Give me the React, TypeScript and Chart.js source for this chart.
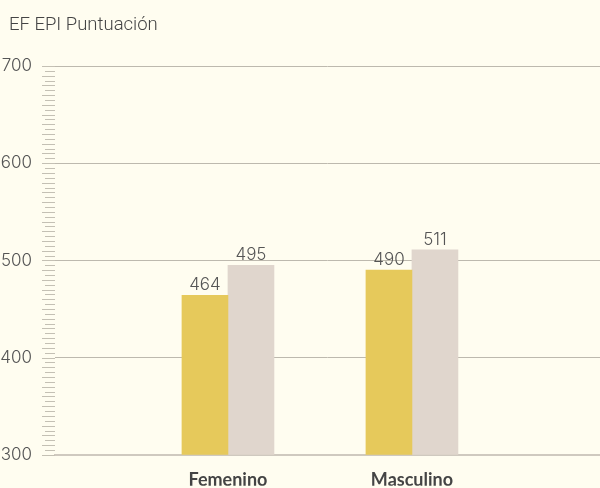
import React, { useEffect, useRef } from "react";
import { Chart, registerables } from "chart.js";

Chart.register(...registerables);

const categories = ["Femenino", "Masculino"];
const seriesGold = [464, 490];
const seriesBeige = [495, 511];
const yTicks = [300, 400, 500, 600, 700];
const titleText = "EF EPI Puntuación";

const BG = "#FFFDF0";

export default function App() {
  const ref = useRef<HTMLCanvasElement | null>(null);

  useEffect(() => {
    document.body.style.margin = "0";
    document.body.style.background = BG;
    const canvas = ref.current;
    if (!canvas) return;

    const bgPlugin = {
      id: "bg",
      beforeDraw(chart: any) {
        const { ctx, width, height } = chart;
        ctx.save();
        ctx.fillStyle = BG;
        ctx.fillRect(0, 0, width, height);
        ctx.restore();
      },
    };

    const titlePlugin = {
      id: "titleText",
      afterDraw(chart: any) {
        const ctx = chart.ctx;
        ctx.save();
        ctx.font = "300 18.5px Roboto";
        ctx.fillStyle = "#444";
        ctx.textAlign = "left";
        ctx.textBaseline = "alphabetic";
        ctx.fillText(titleText, 9, 30);
        ctx.restore();
      },
    };

    const minorTicks = {
      id: "minorTicks",
      afterDraw(chart: any) {
        const y = chart.scales.y;
        const ctx = chart.ctx;
        const left = chart.chartArea.left;
        ctx.save();
        ctx.strokeStyle = "#c4c0b4";
        ctx.lineWidth = 1;
        for (let v = yTicks[0]; v <= yTicks[yTicks.length - 1]; v += 5) {
          const py = Math.round(y.getPixelForValue(v)) + 0.5;
          const long = v % 10 === 0;
          ctx.beginPath();
          ctx.moveTo(left - (long ? 13 : 10), py);
          ctx.lineTo(left, py);
          ctx.stroke();
        }
        ctx.restore();
      },
    };

    const valueLabels = {
      id: "valueLabels",
      afterDatasetsDraw(chart: any) {
        const ctx = chart.ctx;
        ctx.save();
        ctx.font = "300 17px Inter";
        ctx.fillStyle = "#555";
        ctx.textAlign = "center";
        ctx.textBaseline = "alphabetic";
        chart.data.datasets.forEach((ds: any, di: number) => {
          const meta = chart.getDatasetMeta(di);
          meta.data.forEach((el: any, i: number) => {
            ctx.fillText(String(ds.data[i].y), el.x, el.y - 5);
          });
        });
        ctx.restore();
      },
    };

    const chart = new Chart(canvas, {
      type: "bar",
      data: {
        datasets: [
          {
            label: "A",
            data: categories.map((c, i) => ({ x: i, y: seriesGold[i] })),
            backgroundColor: "#E6C95B",
            barThickness: 46,
          },
          {
            label: "B",
            data: categories.map((c, i) => ({ x: i, y: seriesBeige[i] })),
            backgroundColor: "#E0D6CD",
            barThickness: 46,
          },
        ],
      },
      options: {
        animation: false,
        responsive: false,
        maintainAspectRatio: false,
        layout: { padding: { top: 66, right: 0, left: 0, bottom: 0 } },
        plugins: {
          legend: { display: false },
          tooltip: { enabled: false },
          title: { display: false },
        },
        scales: {
          x: {
            type: "linear",
            min: -0.94,
            max: 2.022,
            offset: false,
            bounds: "data",
            afterBuildTicks(scale: any) {
              scale.ticks = categories.map((c, i) => ({ value: i }));
            },
            afterFit(scale: any) {
              scale.height = 31;
            },
            grid: { display: false, drawTicks: false, offset: false },
            border: { display: true, color: "#cfc9bf", width: 2 },
            ticks: {
              padding: 15,
              color: "#444",
              font: { family: "Lato", size: 18, weight: "bold" },
              callback: (v: any) => categories[v as number] ?? "",
            },
          },
          y: {
            type: "linear",
            min: 300,
            max: 700,
            z: 1,
            afterBuildTicks(scale: any) {
              scale.ticks = yTicks.map((v) => ({ value: v }));
            },
            afterFit(scale: any) {
              scale.width = 55;
            },
            grid: { color: "#bdb9ae", lineWidth: 1, drawTicks: false },
            border: { display: false },
            ticks: {
              padding: 23,
              color: "#555",
              font: { family: "Inter", size: 17, weight: "300" },
            },
          },
        },
      },
      plugins: [bgPlugin, titlePlugin, minorTicks, valueLabels],
    } as any);

    return () => chart.destroy();
  }, []);

  return (
    <div style={{ width: 600, height: 488, background: BG }}>
      <canvas ref={ref} width={600} height={488} style={{ display: "block" }} />
    </div>
  );
}
